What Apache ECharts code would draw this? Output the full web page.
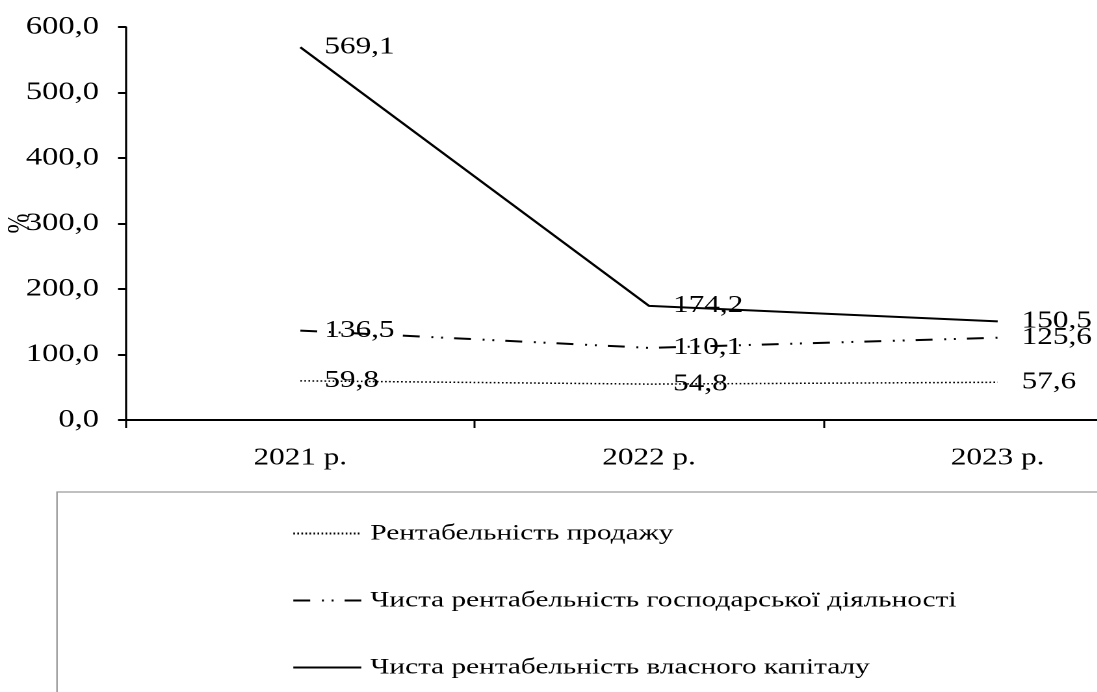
<!DOCTYPE html>
<html>
<head>
<meta charset="utf-8">
<script src="https://cdn.jsdelivr.net/npm/echarts@6/dist/echarts.min.js"></script>
<style>
  html, body { margin: 0; padding: 0; background: #fff; overflow: hidden; }
  #wrap { width: 1097px; height: 692px; overflow: hidden; position: relative; }
  #chart { position: absolute; left: 0; top: 0; height: 692px; transform-origin: 0 0; }
</style>
</head>
<body>
<div id="wrap"><div id="chart"></div></div>
<script>
// Categories and series values
const years = ['2021 р.', '2022 р.', '2023 р.'];
const salesProfitability = [59.8, 54.8, 57.6];
const netOperatingProfitability = [136.5, 110.1, 125.6];
const netEquityProfitability = [569.1, 174.2, 150.5];
const seriesNames = [
  'Рентабельність продажу',
  'Чиста рентабельність господарської діяльності',
  'Чиста рентабельність власного капіталу'
];
const yTicks = { min: 0, max: 600, interval: 100 };

// The figure is drawn horizontally stretched (wide text), so the canvas is
// laid out narrower and scaled along X.
const SX = 1.3;
const W = 1097 / SX;
const el = document.getElementById('chart');
el.style.width = W + 'px';
el.style.transform = 'scaleX(' + SX + ')';

const FONT = 'Liberation Serif';
const fmt = v => Number(v).toFixed(1).replace('.', ',');
const sx = px => px / SX;

const chart = echarts.init(el, null, { renderer: 'canvas', devicePixelRatio: 2 });

const labelCfg = {
  show: true,
  position: 'right',
  distance: 18,
  color: '#000',
  fontFamily: FONT,
  fontSize: 24,
  formatter: p => fmt(p.value)
};

// points are not drawn, only their value labels
const hiddenPoint = { color: 'rgba(0,0,0,0)', borderWidth: 0 };

chart.setOption({
  backgroundColor: '#fff',
  animation: false,
  textStyle: { fontFamily: FONT, color: '#000' },
  grid: {
    left: sx(126), top: 27, width: sx(1046), height: 393,
    containLabel: false, outerBoundsMode: 'none'
  },
  xAxis: {
    type: 'category',
    data: years,
    boundaryGap: true,
    axisLine: { lineStyle: { color: '#000', width: 2 } },
    axisTick: { show: true, length: 8, lineStyle: { color: '#000', width: 1.5 } },
    axisLabel: { color: '#000', fontFamily: FONT, fontSize: 24, margin: 26 },
    splitLine: { show: false }
  },
  yAxis: {
    type: 'value',
    min: yTicks.min,
    max: yTicks.max,
    interval: yTicks.interval,
    name: '%',
    nameLocation: 'middle',
    nameRotate: 90,
    nameGap: 69,
    nameMoveOverlap: false,
    nameTextStyle: { color: '#000', fontFamily: FONT, fontSize: 24 },
    axisLine: { show: true, lineStyle: { color: '#000', width: 1.6 } },
    axisTick: { show: true, length: sx(8), lineStyle: { color: '#000', width: 2 } },
    axisLabel: { color: '#000', fontFamily: FONT, fontSize: 25, margin: sx(27), formatter: v => fmt(v) },
    splitLine: { show: false }
  },
  legend: {
    orient: 'vertical',
    left: sx(292),
    top: 522,
    padding: 0,
    itemGap: 44,
    itemWidth: sx(68),
    itemHeight: 22,
    itemStyle: { opacity: 0 },
    textStyle: { color: '#000', fontFamily: FONT, fontSize: 22.5, padding: [0, 0, 0, 2] },
    data: seriesNames
  },
  graphic: [{
    type: 'rect',
    silent: true,
    z: -1,
    shape: { x: sx(57), y: 492, width: 2000, height: 400 },
    style: { fill: 'none', stroke: '#9a9a9a', lineWidth: 1.2 }
  }],
  series: [
    {
      name: seriesNames[0],
      type: 'line',
      data: salesProfitability,
      symbol: 'circle',
      symbolSize: 1,
      itemStyle: hiddenPoint,
      lineStyle: { color: '#000', width: 1.5, type: [1.3, 1.8] },
      label: labelCfg
    },
    {
      name: seriesNames[1],
      type: 'line',
      data: netOperatingProfitability,
      symbol: 'circle',
      symbolSize: 1,
      itemStyle: hiddenPoint,
      lineStyle: { color: '#000', width: 2, type: [13, 9, 1.5, 6, 1.5, 8.5] },
      label: labelCfg
    },
    {
      name: seriesNames[2],
      type: 'line',
      data: netEquityProfitability,
      symbol: 'circle',
      symbolSize: 1,
      itemStyle: hiddenPoint,
      lineStyle: { color: '#000', width: 2, type: 'solid' },
      label: labelCfg
    }
  ]
});
</script>
</body>
</html>
